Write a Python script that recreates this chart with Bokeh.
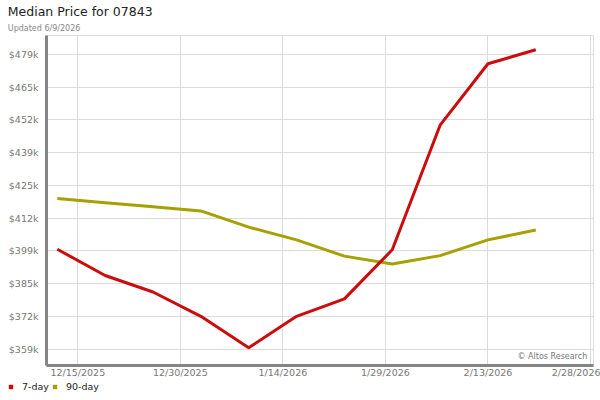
from datetime import datetime, timedelta

from bokeh.plotting import figure
from bokeh.layouts import column
from bokeh.models import (ColumnDataSource, Range1d, FixedTicker, Label,
                          Legend, LegendItem, Title)
from bokeh.embed import file_html
from bokeh.resources import INLINE

# ---------------- data ----------------
title_text = "Median Price for 07843"
subtitle_text = "Updated 6/9/2026"
credit_text = "\u00a9 Altos Research"

dates = ["2025-12-12", "2025-12-19", "2025-12-26", "2026-01-02", "2026-01-09",
         "2026-01-16", "2026-01-23", "2026-01-30", "2026-02-06", "2026-02-13",
         "2026-02-20"]
price_7day = [399700, 389000, 382300, 372400, 359600, 372400, 379500, 399500,
              450200, 475200, 480900]
price_90day = [420400, 418600, 417000, 415300, 408700, 403500, 396900, 393700,
               397100, 403500, 407500]

series_names = ["7-day", "90-day"]
series_colors = ["#cc0c0c", "#a6a000"]

x_tick_dates = ["2025-12-15", "2025-12-30", "2026-01-14", "2026-01-29",
                "2026-02-13", "2026-02-28"]
x_tick_labels = ["12/15/2025", "12/30/2025", "1/14/2026", "1/29/2026",
                 "2/13/2026", "2/28/2026"]
y_tick_values = [359000, 372333, 385667, 399000, 412333, 425667, 439000,
                 452333, 465667, 479000]
y_tick_labels = ["$359k", "$372k", "$385k", "$399k", "$412k", "$425k",
                 "$439k", "$452k", "$465k", "$479k"]

# ---------------- build ----------------
EPOCH = datetime(1970, 1, 1)


def to_ms(s):
    return (datetime.fromisoformat(s) - EPOCH).total_seconds() * 1000.0


date_ms = [to_ms(d) for d in dates]
x_tick_ms = [to_ms(d) for d in x_tick_dates]

src = ColumnDataSource(dict(date=date_ms, p7=price_7day, p90=price_90day))

ref = datetime(2025, 12, 15)
x_start = ref - timedelta(days=4.58)
x_end = ref + timedelta(days=75.44)

p = figure(width=600, height=380, x_axis_type="datetime",
           x_range=Range1d(x_start, x_end),
           y_range=Range1d(352372, 486710),
           output_backend="svg", toolbar_location=None,
           min_border_left=46, min_border_right=7,
           min_border_top=35, min_border_bottom=14,
           background_fill_color="white", border_fill_color="white",
           outline_line_color="#dddddd", outline_line_width=1)

xticker = FixedTicker(ticks=x_tick_ms)
yticker = FixedTicker(ticks=y_tick_values)
p.xaxis.ticker = xticker
p.yaxis.ticker = yticker
p.xgrid.ticker = xticker
p.ygrid.ticker = yticker
p.xaxis.major_label_overrides = dict(zip(x_tick_ms, x_tick_labels))
p.yaxis.major_label_overrides = dict(zip(y_tick_values, y_tick_labels))

for ax, standoff in ((p.xaxis, 1), (p.yaxis, 8)):
    ax.axis_line_color = "#858585"
    ax.axis_line_width = 3
    ax.major_tick_line_color = None
    ax.minor_tick_line_color = None
    ax.major_tick_out = 0
    ax.major_tick_in = 0
    ax.major_label_standoff = standoff
    ax.major_label_text_font = "DejaVu Sans"
    ax.major_label_text_font_size = "9.5px"
    ax.major_label_text_color = "#777777"

for g in (p.xgrid, p.ygrid):
    g.grid_line_color = "#dcdcdc"
    g.grid_line_width = 1

r90 = p.line(x="date", y="p90", source=src, line_color=series_colors[1],
             line_width=3, line_join="round")
r7 = p.line(x="date", y="p7", source=src, line_color=series_colors[0],
            line_width=3, line_join="round")

# subtitle first (closest to the frame), then the main title above it
p.add_layout(Title(text=subtitle_text, align="left", offset=-38.7,
                   standoff=6, text_font="DejaVu Sans", text_font_size="8px",
                   text_font_style="normal", text_color="#888888"), "above")
p.add_layout(Title(text=title_text, align="left", offset=-38.7,
                   standoff=-1, text_font="DejaVu Sans",
                   text_font_size="12.5px", text_font_style="normal",
                   text_color="#222222"), "above")

p.add_layout(Label(x=540.7, y=8.7, x_units="screen", y_units="screen",
                   text=credit_text, text_font="DejaVu Sans",
                   text_font_size="8px", text_color="#777777",
                   text_align="right", text_baseline="alphabetic"))

# ---------------- legend strip ----------------
pl = figure(width=600, height=20, x_range=p.x_range, y_range=p.y_range,
            output_backend="svg", toolbar_location=None,
            x_axis_location=None, y_axis_location=None,
            min_border=0, min_border_left=0, min_border_right=0,
            min_border_top=0, min_border_bottom=0,
            background_fill_color="white", border_fill_color="white",
            outline_line_color=None)
pl.frame_align = False
pl.xgrid.visible = False
pl.ygrid.visible = False

# square swatches for the legend (zero-size markers on the plot itself)
s7 = pl.scatter(x="date", y="p7", source=src, marker="square", size=0,
                fill_color=series_colors[0], line_color=None)
s90 = pl.scatter(x="date", y="p90", source=src, marker="square", size=0,
                 fill_color=series_colors[1], line_color=None)

legend = Legend(items=[LegendItem(label=series_names[0], renderers=[s7]),
                       LegendItem(label=series_names[1], renderers=[s90])],
                orientation="horizontal", location=(5, 7.8),
                padding=0, margin=0, spacing=-4,
                glyph_width=11, glyph_height=11, label_standoff=6,
                label_text_font="DejaVu Sans", label_text_font_size="9.5px",
                label_text_font_style="normal",
                label_text_color="#222222",
                background_fill_alpha=0, border_line_color=None)
pl.add_layout(legend)

layout = column(p, pl, spacing=0)

open("out.html", "w").write(file_html(layout, INLINE))
